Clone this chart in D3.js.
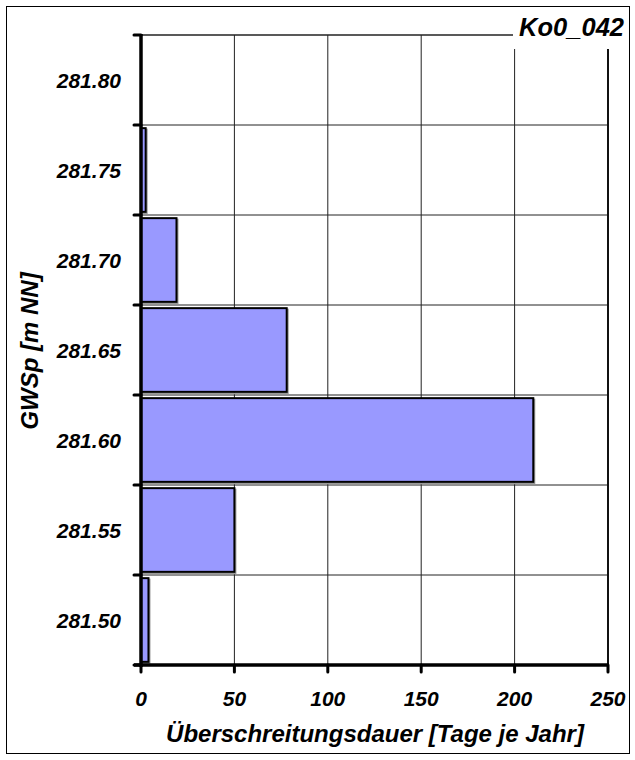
<!DOCTYPE html>
<html>
<head>
<meta charset="utf-8">
<script src="https://cdn.jsdelivr.net/npm/d3@7"></script>
<style>
  html, body { margin: 0; padding: 0; background: #fff; }
  svg { display: block; }
  text { font-family: "Liberation Sans", Arial, sans-serif; font-weight: bold; font-style: italic; fill: #000; }
</style>
</head>
<body>
<script>
// Water level classes (top to bottom) and exceedance duration in days per year
const levels = ["281.80", "281.75", "281.70", "281.65", "281.60", "281.55", "281.50"];
const days = [0, 2.5, 19, 78, 210, 50, 4];
const xTicks = [0, 50, 100, 150, 200, 250];
const stationName = "Ko0_042";
const xTitle = "Überschreitungsdauer [Tage je Jahr]";
const yTitle = "GWSp [m NN]";

const W = 635, H = 760;
const plot = { left: 141, right: 608, top: 35, bottom: 665 };

const svg = d3.select("body").append("svg").attr("width", W).attr("height", H);

// outer frame
svg.append("rect").attr("x", 6.5).attr("y", 6.5).attr("width", 623).attr("height", 747)
  .attr("fill", "none").attr("stroke", "#000").attr("stroke-width", 1);

const x = d3.scaleLinear().domain([0, 250]).range([plot.left, plot.right]);
const y = d3.scaleBand().domain(levels).range([plot.top, plot.bottom]).paddingInner(0.07).paddingOuter(0.035);

// band boundaries (grid rows)
const step = (plot.bottom - plot.top) / levels.length;
const bounds = d3.range(levels.length + 1).map(i => plot.top + i * step);

// gridlines
svg.append("g").selectAll("line").data(xTicks.slice(1, -1)).join("line")
  .attr("x1", d => x(d)).attr("x2", d => x(d)).attr("y1", plot.top).attr("y2", plot.bottom)
  .attr("stroke", "#222").attr("stroke-width", 1);
svg.append("g").selectAll("line").data(bounds.slice(1, -1)).join("line")
  .attr("x1", plot.left).attr("x2", plot.right).attr("y1", d => d).attr("y2", d => d)
  .attr("stroke", "#222").attr("stroke-width", 1);
// top and right plot border
svg.append("line").attr("x1", plot.left).attr("x2", plot.right).attr("y1", plot.top).attr("y2", plot.top)
  .attr("stroke", "#222").attr("stroke-width", 1.5);
svg.append("line").attr("x1", plot.right).attr("x2", plot.right).attr("y1", plot.top).attr("y2", plot.bottom)
  .attr("stroke", "#111").attr("stroke-width", 2);

// bars with a soft shadow
const bars = svg.append("g");
const data = levels.map((l, i) => ({ level: l, value: days[i] })).filter(d => d.value > 0);
bars.selectAll("rect.shadow").data(data).join("rect").attr("class", "shadow")
  .attr("x", x(0) + 1).attr("y", d => y(d.level) + 1.5)
  .attr("width", d => x(d.value) - x(0)).attr("height", y.bandwidth())
  .attr("fill", "none").attr("stroke", "#999").attr("stroke-width", 2);
bars.selectAll("rect.bar").data(data).join("rect").attr("class", "bar")
  .attr("x", x(0)).attr("y", d => y(d.level))
  .attr("width", d => x(d.value) - x(0)).attr("height", y.bandwidth())
  .attr("fill", "#9999ff").attr("stroke", "#000").attr("stroke-width", 2);

// left axis line with ticks at band boundaries
svg.append("line").attr("x1", plot.left).attr("x2", plot.left).attr("y1", plot.top - 1).attr("y2", plot.bottom + 2)
  .attr("stroke", "#000").attr("stroke-width", 3.5);
svg.append("g").selectAll("line").data(bounds).join("line")
  .attr("x1", plot.left - 7).attr("x2", plot.left).attr("y1", d => d).attr("y2", d => d)
  .attr("stroke", "#000").attr("stroke-width", 3).attr("stroke-linecap", "round");

// bottom axis line with ticks
svg.append("line").attr("x1", plot.left - 7).attr("x2", plot.right + 1).attr("y1", plot.bottom).attr("y2", plot.bottom)
  .attr("stroke", "#000").attr("stroke-width", 3.5);
svg.append("g").selectAll("line").data(xTicks).join("line")
  .attr("x1", d => x(d)).attr("x2", d => x(d)).attr("y1", plot.bottom).attr("y2", plot.bottom + 7)
  .attr("stroke", "#000").attr("stroke-width", 3).attr("stroke-linecap", "round");

// tick labels
svg.append("g").selectAll("text").data(levels).join("text")
  .attr("x", 121).attr("y", d => y(d) + y.bandwidth() / 2 + 7.5)
  .attr("text-anchor", "end").attr("font-size", 21).text(d => d);
svg.append("g").selectAll("text").data(xTicks).join("text")
  .attr("x", d => x(d)).attr("y", 705.5)
  .attr("text-anchor", "middle").attr("font-size", 21).text(d => d);

// axis titles
svg.append("text").attr("x", 375).attr("y", 742).attr("text-anchor", "middle")
  .attr("font-size", 24).text(xTitle);
svg.append("text").attr("transform", "translate(38,351) rotate(-90)").attr("text-anchor", "middle")
  .attr("font-size", 24).text(yTitle);

// station label on a white box
svg.append("rect").attr("x", 513).attr("y", 10).attr("width", 115).attr("height", 39).attr("fill", "#fff");
svg.append("text").attr("x", 624).attr("y", 36).attr("text-anchor", "end")
  .attr("font-size", 25.5).text(stationName);
</script>
</body>
</html>
